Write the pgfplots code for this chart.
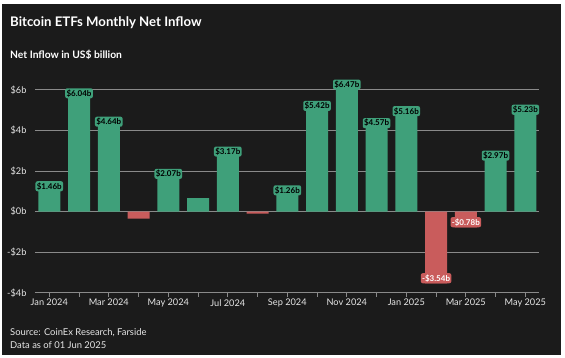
\documentclass[border=0pt]{standalone}
\usepackage{fontspec}
\setmainfont{Lato}
\usepackage{pgfplots}
\pgfplotsset{compat=1.18}
\definecolor{bg}{HTML}{1B1B1B}
\definecolor{gbar}{HTML}{3FA07A}
\definecolor{rbar}{HTML}{C95C5C}
\definecolor{gridc}{HTML}{8A8A8A}
\definecolor{txt}{HTML}{E6E6E6}
\begin{document}
\begin{tikzpicture}
\fill[white] (0pt,0pt) rectangle (565pt,-358pt);
\fill[bg] (2pt,-4pt) rectangle (561pt,-355pt);
\node[anchor=base west, text=white, font=\bfseries\fontsize{13.2}{15}\selectfont, inner sep=0] at (10pt,-26.5pt) {Bitcoin ETFs Monthly Net Inflow};
\node[anchor=base west, text=white, font=\bfseries\fontsize{10.3}{12}\selectfont, inner sep=0] at (10pt,-58.5pt) {Net Inflow in US\$ billion};
\node[anchor=base west, text=txt, font=\fontsize{9.4}{11}\selectfont, inner sep=0] at (10pt,-335pt) {Source: CoinEx Research, Farside};
\node[anchor=base west, text=txt, font=\fontsize{9.4}{11}\selectfont, inner sep=0] at (10pt,-348pt) {Data as of 01 Jun 2025};
\begin{axis}[
  at={(35pt,-292.8pt)}, anchor=south west,
  scale only axis, width=503.7pt, height=215.1pt,
  xmin=-0.48, xmax=16.45, ymin=-4, ymax=6.6,
  axis x line*=bottom, axis y line*=left,
  x axis line style={draw=gridc, line width=1pt, -},
  y axis line style={draw=none},
  ytick={-4,-2,0,2,4,6},
  yticklabels={-\$4b,-\$2b,\$0b,\$2b,\$4b,\$6b},
  xtick={0,...,16},
  xticklabels={Jan 2024,,Mar 2024,,May 2024,,Jul 2024,,Sep 2024,,Nov 2024,,Jan 2025,,Mar 2025,,May 2025},
  ymajorgrids, grid style={draw=gridc, line width=1pt},
  ytick style={draw=none},
  xtick style={draw=gridc, line width=0.8pt},
  tick align=outside, major tick length=4pt,
  ticklabel style={text=txt, font=\fontsize{9.2}{11}\selectfont},
  xticklabel style={yshift=1pt},
  yticklabel style={xshift=-1pt},
  clip=false,
]
\addplot[ybar, bar width=22pt, bar shift=0pt, fill=gbar, draw=none] coordinates {
(0,1.46) (1,6.04) (2,4.64) (4,2.07) (5,0.67) (6,3.17) (8,1.26) (9,5.42) (10,6.47) (11,4.57) (12,5.16) (15,2.97) (16,5.23)};
\addplot[ybar, bar width=22pt, bar shift=0pt, fill=rbar, draw=none] coordinates {
(3,-0.34) (7,-0.10) (13,-3.54) (14,-0.78)};
\addplot[draw=none, mark=none, nodes near coords, point meta=explicit symbolic,
  nodes near coords style={anchor=north, fill=gbar, rounded corners=2pt, inner sep=1.3pt, text=black, font=\bfseries\fontsize{8}{9}\selectfont, yshift=1pt}]
  table[meta=label] {
x y label
0 1.46 \$1.46b
1 6.04 \$6.04b
2 4.64 \$4.64b
4 2.07 \$2.07b
6 3.17 \$3.17b
8 1.26 \$1.26b
9 5.42 \$5.42b
10 6.47 \$6.47b
11 4.57 \$4.57b
12 5.16 \$5.16b
15 2.97 \$2.97b
16 5.23 \$5.23b
};
\addplot[draw=none, mark=none, nodes near coords, point meta=explicit symbolic,
  nodes near coords style={anchor=south, fill=rbar, rounded corners=2pt, inner sep=1.3pt, text=white, font=\bfseries\fontsize{8}{9}\selectfont, yshift=0pt}]
  table[meta=label] {
x y label
13 -3.54 -\$3.54b
14 -0.78 -\$0.78b
};
\end{axis}
\end{tikzpicture}
\end{document}
